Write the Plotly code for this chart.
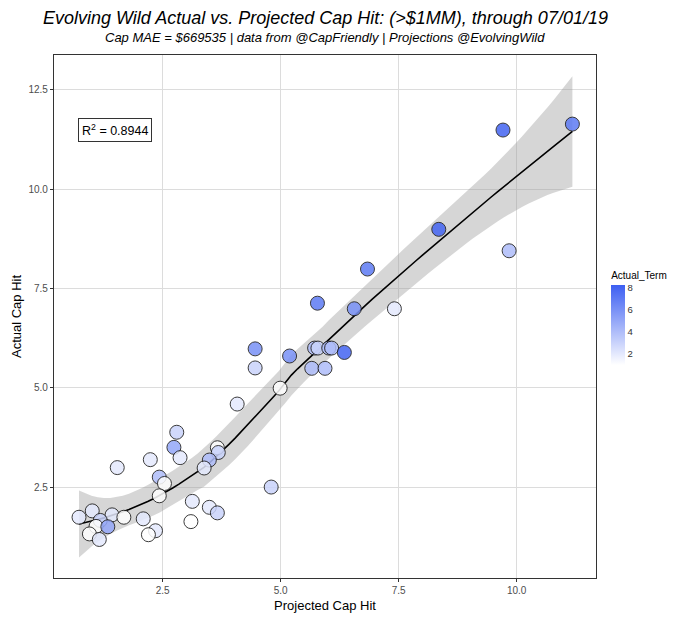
import numpy as np
import plotly.graph_objects as go

# ---- data ----
projected = [11.18, 9.71, 9.84, 8.35, 6.84, 5.78, 6.56, 7.41, 4.46, 4.46,
             5.19, 5.72, 5.79, 6.02, 6.08, 6.35, 5.66, 5.94, 4.99, 4.08,
             2.80, 2.74, 2.87, 3.66, 3.68, 3.49, 3.38, 2.24, 2.43, 2.54,
             2.43, 1.54, 4.80, 3.13, 3.49, 3.66, 3.10, 2.09, 2.35, 2.20,
             0.73, 1.01, 1.43, 1.68, 1.18, 1.09, 1.34, 0.95, 1.16]
actual = [11.64, 11.49, 8.45, 8.99, 7.99, 7.13, 6.99, 6.99, 5.98, 5.50,
          5.80, 6.00, 6.00, 6.00, 6.00, 5.89, 5.49, 5.49, 4.99, 4.59,
          3.88, 3.50, 3.24, 3.49, 3.37, 3.18, 2.98, 3.19, 2.75, 2.59,
          2.28, 2.99, 2.50, 2.14, 1.99, 1.85, 1.63, 1.70, 1.40, 1.30,
          1.74, 1.90, 1.80, 1.74, 1.66, 1.51, 1.50, 1.32, 1.18]
actual_term = [7, 8, 4, 8, 7, 7, 6, 2, 6, 3,
               6, 4, 3, 4, 4, 8, 4, 4, 1, 2,
               3, 5, 2, 1, 3, 4, 2, 2, 4, 1,
               1, 2, 3, 2, 2, 3, 1, 2, 2, 1,
               2, 2, 2, 1, 3, 1, 5, 1, 2]

title_text = "Evolving Wild Actual vs. Projected Cap Hit: (>$1MM), through 07/01/19"
subtitle_text = "Cap MAE = $669535 | data from @CapFriendly | Projections @EvolvingWild"
r2_text = "R<sup>2</sup> = 0.8944"
x_ticks = [2.5, 5.0, 7.5, 10.0]
y_ticks = [2.5, 5.0, 7.5, 10.0, 12.5]
term_ticks = [2, 4, 6, 8]

# ---- loess smoother (degree 2, span 0.75) with 95% band ----
x = np.array(projected)
y = np.array(actual)
n = len(x)
q = int(np.floor(n * 0.75))


def loess_row(x0):
    d = np.abs(x - x0)
    h = np.sort(d)[q - 1]
    u = np.clip(d / h, 0, 1)
    w = (1 - u ** 3) ** 3
    X = np.column_stack([np.ones(n), x - x0, (x - x0) ** 2])
    XtW = X.T * w
    A = np.linalg.solve(XtW @ X, XtW)
    return A[0]


L = np.array([loess_row(xi) for xi in x])
res = y - L @ y
delta1 = np.trace((np.eye(n) - L).T @ (np.eye(n) - L))
sigma = np.sqrt(np.sum(res ** 2) / delta1)
grid = np.linspace(x.min(), x.max(), 80)
rows = np.array([loess_row(g) for g in grid])
fit = rows @ y
se = sigma * np.sqrt(np.sum(rows ** 2, axis=1))
tq = 2.02
upper = fit + tq * se
lower = fit - tq * se

fig = go.Figure()
fig.add_trace(go.Scatter(
    x=np.concatenate([grid, grid[::-1]]),
    y=np.concatenate([upper, lower[::-1]]),
    fill="toself", fillcolor="rgba(153,153,153,0.4)",
    line=dict(width=0), mode="lines", hoverinfo="skip", showlegend=False))
fig.add_trace(go.Scatter(x=grid, y=fit, mode="lines",
                         line=dict(color="black", width=1.6), showlegend=False))
fig.add_trace(go.Scatter(
    x=projected, y=actual, mode="markers", showlegend=False,
    marker=dict(size=14, color=actual_term, cmin=1, cmax=8.25,
                colorscale=[[0, "#FFFFFF"], [1, "#3D5FF2"]],
                opacity=0.85,
                line=dict(color="#1a1a1a", width=1),
                colorbar=dict(
                    title=dict(text="Actual_Term", side="top",
                               font=dict(size=10, color="black")),
                    thickness=14, len=96, lenmode="pixels", ypad=0, xpad=0,
                    x=1.028, xanchor="left", y=0.5, yanchor="middle",
                    tickvals=term_ticks, ticks="", outlinewidth=0,
                    tickfont=dict(size=9.5, color="#333333")))))

axis_common = dict(showgrid=True, gridcolor="#DCDCDC", gridwidth=1,
                   zeroline=False, showline=True, linecolor="#333333",
                   linewidth=1.2, mirror=True, ticks="outside", ticklen=3,
                   tickcolor="#333333", tickfont=dict(size=10, color="#4D4D4D"),
                   tickformat=".1f")
fig.update_xaxes(range=[0.2, 11.68], tickvals=x_ticks,
                 title=dict(text="Projected Cap Hit", font=dict(size=13, color="black"),
                            standoff=5), **axis_common)
fig.update_yaxes(range=[0.21, 13.38], tickvals=y_ticks,
                 title=dict(text="Actual Cap Hit", font=dict(size=13, color="black"),
                            standoff=3), **axis_common)

fig.add_annotation(x=1.5, y=11.5, xref="x", yref="y", text=r2_text,
                   showarrow=False, font=dict(size=12.5, color="black"),
                   bordercolor="#333333", borderwidth=1, borderpad=3,
                   bgcolor="white")
fig.add_annotation(x=0.5, y=1.0707, xref="paper", yref="paper",
                   text="<i>" + title_text + "</i>",
                   showarrow=False, font=dict(size=18, color="black"),
                   xanchor="center", yanchor="middle")
fig.add_annotation(x=0.5, y=1.0344, xref="paper", yref="paper",
                   text="<i>" + subtitle_text + "</i>",
                   showarrow=False, font=dict(size=13, color="black"),
                   xanchor="center", yanchor="middle")

fig.update_layout(width=680, height=618,
                  margin=dict(l=54, r=84, t=55, b=40, autoexpand=False),
                  paper_bgcolor="white", plot_bgcolor="white",
                  font=dict(family="Liberation Sans, Arial, sans-serif"))
fig.write_html("out.html", config={"displayModeBar": False},
               post_script="document.body.style.margin='0';document.body.style.padding='0';")
